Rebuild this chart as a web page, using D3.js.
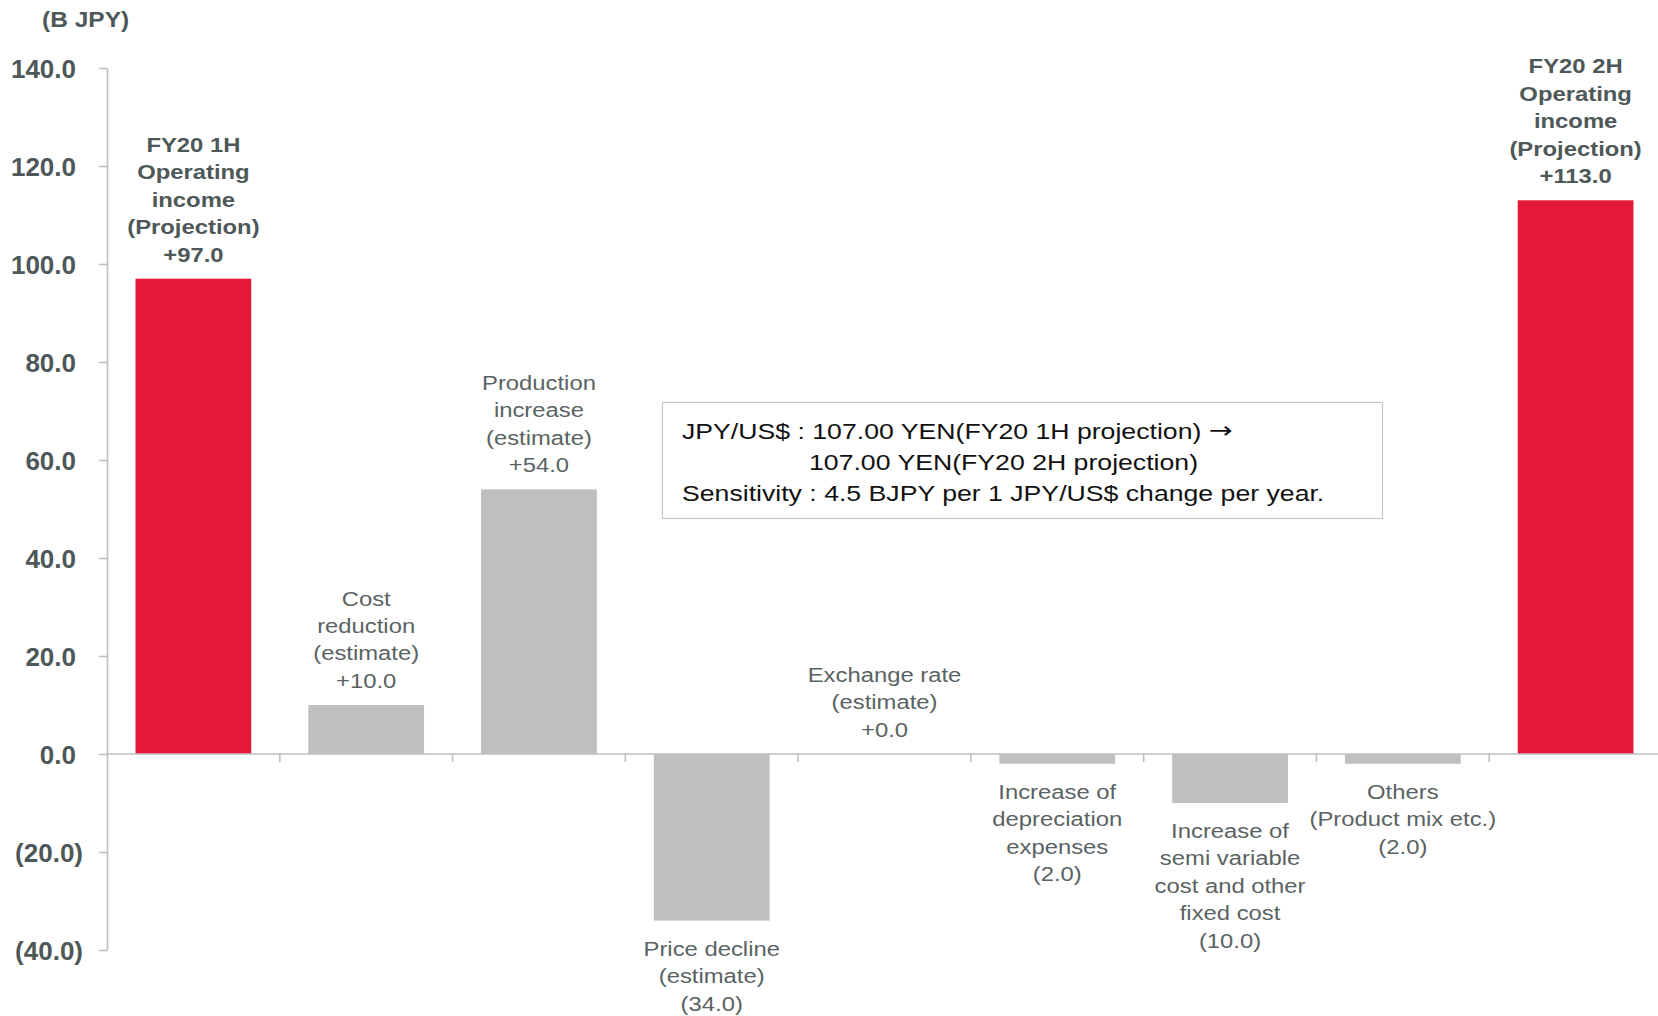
<!DOCTYPE html>
<html>
<head>
<meta charset="utf-8">
<script src="https://cdn.jsdelivr.net/npm/d3@7"></script>
<style>
  html, body { margin: 0; padding: 0; background: #ffffff; }
  svg { display: block; font-family: "Liberation Sans", Arial, sans-serif; }
</style>
</head>
<body>
<svg id="chart" width="1658" height="1016"></svg>
<script>
// Operating income bridge, FY20 1H -> FY20 2H (billions of yen)
const categories = [
  ["FY20 1H", "Operating", "income", "(Projection)"],
  ["Cost", "reduction", "(estimate)"],
  ["Production", "increase", "(estimate)"],
  ["Price decline", "(estimate)"],
  ["Exchange rate", "(estimate)"],
  ["Increase of", "depreciation", "expenses"],
  ["Increase of", "semi variable", "cost and other", "fixed cost"],
  ["Others", "(Product mix etc.)"],
  ["FY20 2H", "Operating", "income", "(Projection)"]
];
const values = [97.0, 10.0, 54.0, -34.0, 0.0, -2.0, -10.0, -2.0, 113.0];
const kinds = ["total", "delta", "delta", "delta", "delta", "delta", "delta", "delta", "total"];
const yTicks = [-40, -20, 0, 20, 40, 60, 80, 100, 120, 140];
const unitLabel = "(B JPY)";
const noteLines = [
  ["JPY/US$ : 107.00 YEN(FY20 1H projection) ", "\u2192"],
  ["107.00 YEN(FY20 2H projection)", ""],
  ["Sensitivity : 4.5 BJPY per 1 JPY/US$ change per year.", ""]
];

const svg = d3.select("#chart");
const axisColor = "#bfbfbf";
const boldText = "#4e5858";
const lightText = "#5a6363";
const red = "#e31937";
const grey = "#bfbfbf";

const x = d3.scaleBand()
  .domain(d3.range(values.length))
  .range([107, 1662])
  .paddingInner(0.33)
  .paddingOuter(0.165);

const y = d3.scaleLinear().domain([-40, 140]).range([950, 68]);

// value axis
const yAxis = svg.append("g")
  .attr("transform", "translate(107,0)")
  .call(d3.axisLeft(y).tickValues(yTicks).tickSize(8).tickSizeOuter(0)
    .tickFormat(v => v < 0 ? `(${(-v).toFixed(1)})` : v.toFixed(1)));
yAxis.select(".domain").attr("stroke", axisColor).attr("stroke-width", 1.6);
yAxis.selectAll(".tick line").attr("stroke", axisColor).attr("stroke-width", 1.6);
yAxis.selectAll(".tick text")
  .attr("x", d => d < 0 ? -24 : -31)
  .attr("dy", "0.35em")
  .attr("fill", boldText)
  .attr("font-family", "'Liberation Sans', Arial, sans-serif")
  .attr("font-size", 26)
  .attr("font-weight", "bold");

// unit caption
svg.append("text")
  .attr("transform", "translate(42,27) scale(1.14,1)")
  .attr("font-size", 21.5).attr("font-weight", "bold")
  .attr("fill", boldText)
  .text(unitLabel);

// bars
svg.append("g").selectAll("rect")
  .data(values)
  .join("rect")
  .attr("x", (d, i) => x(i))
  .attr("width", x.bandwidth())
  .attr("y", d => y(Math.max(0, d)))
  .attr("height", d => Math.abs(y(d) - y(0)))
  .attr("fill", (d, i) => kinds[i] === "total" ? red : grey);

// zero line and category dividers
svg.append("line")
  .attr("x1", 107).attr("x2", 1658)
  .attr("y1", y(0)).attr("y2", y(0))
  .attr("stroke", axisColor).attr("stroke-width", 1.6);
const step = x.step();
svg.append("g").selectAll("line")
  .data(d3.range(1, values.length))
  .join("line")
  .attr("x1", i => x(i) - step * x.paddingInner() / 2)
  .attr("x2", i => x(i) - step * x.paddingInner() / 2)
  .attr("y1", y(0)).attr("y2", y(0) + 8)
  .attr("stroke", axisColor).attr("stroke-width", 1.6);

// category + value labels
const lineGap = 27.5;
values.forEach((v, i) => {
  const isTotal = kinds[i] === "total";
  const valText = v < 0 ? `(${(-v).toFixed(1)})` : `+${v.toFixed(1)}`;
  const lines = categories[i].concat([valText]);
  const cx = x(i) + x.bandwidth() / 2;
  const firstBase = v < 0
    ? y(v) + 35
    : y(v) - 17 - (lines.length - 1) * lineGap;
  const g = svg.append("g")
    .attr("transform", `translate(${cx},${firstBase}) scale(1.135,1)`);
  g.selectAll("text")
    .data(lines)
    .join("text")
    .attr("x", 0)
    .attr("y", (d, k) => k * lineGap)
    .attr("text-anchor", "middle")
    .attr("font-size", 21)
    .attr("font-weight", isTotal ? "bold" : "normal")
    .attr("fill", isTotal ? boldText : lightText)
    .text(d => d);
});

// exchange-rate note
svg.append("rect")
  .attr("x", 662.5).attr("y", 402.5)
  .attr("width", 720).attr("height", 116)
  .attr("fill", "#ffffff")
  .attr("stroke", "#c6c6c6").attr("stroke-width", 1.2);
const noteX = [682, 809, 682];
noteLines.forEach((parts, k) => {
  const t = svg.append("text")
    .attr("transform", `translate(${noteX[k]},${439 + k * 31}) scale(1.24,1)`)
    .attr("font-size", 21.5)
    .attr("fill", "#111111");
  t.append("tspan").text(parts[0]);
  if (parts[1]) {
    t.append("tspan")
      .attr("font-family", "'DejaVu Sans', sans-serif")
      .attr("font-size", 23)
      .attr("dy", -1)
      .text(parts[1]);
  }
});
</script>
</body>
</html>
